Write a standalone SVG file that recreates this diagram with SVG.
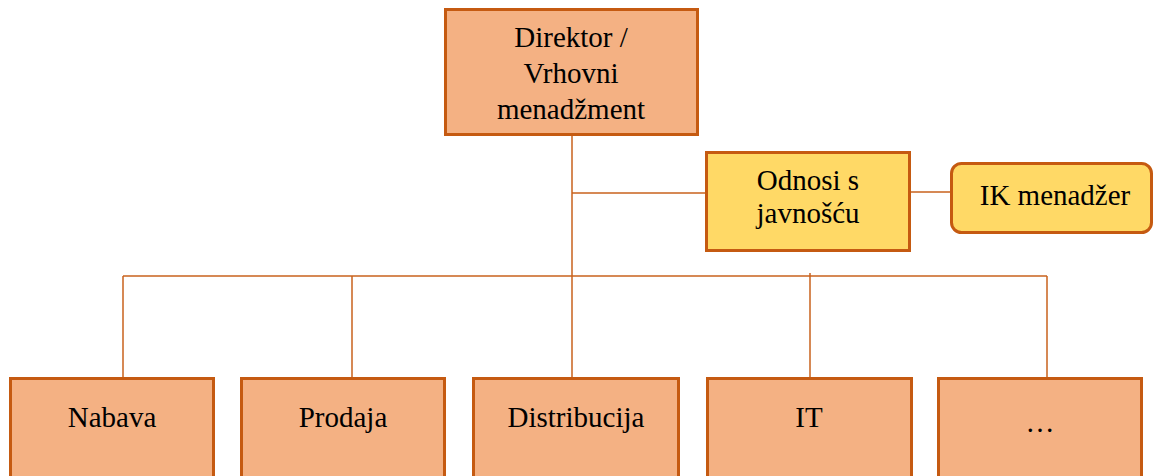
<svg xmlns="http://www.w3.org/2000/svg" width="1154" height="476" viewBox="0 0 1154 476">
<style>
.box{fill:#F4B183;stroke:#C55A11;stroke-width:3}
.ybox{fill:#FFD966;stroke:#C55A11;stroke-width:3}
.line{stroke:#C8621C;stroke-width:1.5;fill:none}
.t{font-size:29px;fill:#000;text-anchor:middle}
</style>
<rect width="1154" height="476" fill="#fff"/>
<g id="connectors">
<path class="line" d="M572 135 V377"/>
<path class="line" d="M572 193 H705"/>
<path class="line" d="M911 192 H951"/>
<path class="line" d="M123 276 H1047"/>
<path class="line" d="M123 276 V377"/>
<path class="line" d="M352 276 V377"/>
<path class="line" d="M810 273 V377"/>
<path class="line" d="M1047 276 V377"/>
</g>
<g font-family="Liberation Serif, serif">
<g id="director">
<rect class="box" x="445.5" y="9.5" width="252" height="125"/>
<text class="t" x="571" y="47">Direktor /</text>
<text class="t" x="571" y="83">Vrhovni</text>
<text class="t" x="571" y="119">menadžment</text>
</g>
<g id="pr">
<rect class="ybox" x="706.5" y="152.5" width="203" height="98"/>
<text class="t" x="808" y="190">Odnosi s</text>
<text class="t" x="808" y="223">javnošću</text>
</g>
<g id="ik">
<rect class="ybox" x="951.5" y="163.5" width="200" height="69" rx="10"/>
<text class="t" x="1055" y="205">IK menadžer</text>
</g>
<g id="nabava">
<rect class="box" x="10.5" y="378.5" width="203" height="120"/>
<text class="t" x="112" y="427">Nabava</text>
</g>
<g id="prodaja">
<rect class="box" x="241.5" y="378.5" width="203" height="120"/>
<text class="t" x="343" y="427">Prodaja</text>
</g>
<g id="distribucija">
<rect class="box" x="473.5" y="378.5" width="205" height="120"/>
<text class="t" x="576" y="427">Distribucija</text>
</g>
<g id="it">
<rect class="box" x="707.5" y="378.5" width="204" height="120"/>
<text class="t" x="809" y="427">IT</text>
</g>
<g id="more">
<rect class="box" x="938.5" y="378.5" width="203" height="120"/>
<text class="t" x="1040" y="432">…</text>
</g>
</g>
</svg>
